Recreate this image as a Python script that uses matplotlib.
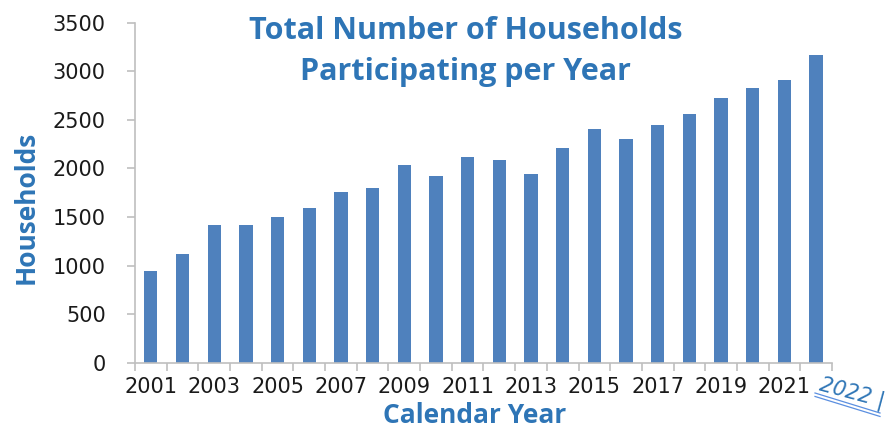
import matplotlib
matplotlib.use("Agg")
import matplotlib.pyplot as plt
from matplotlib.lines import Line2D
import numpy as np

years = list(range(2001, 2023))
households = [945, 1118, 1420, 1420, 1498, 1594, 1758, 1800, 2039, 1926,
              2118, 2088, 1947, 2211, 2402, 2305, 2450, 2558, 2720, 2832, 2912, 3166]
yticks = [0, 500, 1000, 1500, 2000, 2500, 3000, 3500]
title = "Total Number of Households\nParticipating per Year"
xlabel = "Calendar Year"
ylabel = "Households"

BAR = "#4F81BD"
BLUE = "#2E75B6"
GRAY = "#BFBFBF"
TXT = "#1A1A1A"

fig = plt.figure(figsize=(8.95, 4.32), dpi=100)
ax = fig.add_axes([0.1508, 0.1604, 0.7788, 0.7871])

x = np.arange(len(years))
ax.bar(x, households, width=0.42, color=BAR, zorder=2)

ax.set_xlim(-0.5, len(years) - 0.5)
ax.set_ylim(0, 3500)
ax.set_yticks(yticks)
ax.set_yticklabels([str(v) for v in yticks], fontsize=15, color=TXT, family="DejaVu Sans")

major = [i for i, y in enumerate(years) if y % 2 == 1]
ax.set_xticks(major)
ax.set_xticklabels([str(years[i]) for i in major], fontsize=15, color=TXT, family="DejaVu Sans")
ax.set_xticks(np.arange(-0.5, len(years), 1.0), minor=True)
ax.tick_params(axis="x", which="major", length=0, pad=10)
ax.tick_params(axis="x", which="minor", length=6, color=GRAY, width=1.2)
ax.tick_params(axis="y", length=6, color=GRAY, width=1.2, pad=15)

for s in ["top", "right"]:
    ax.spines[s].set_visible(False)
for s in ["left", "bottom"]:
    ax.spines[s].set_color(GRAY)
    ax.spines[s].set_linewidth(1.2)

fig.text(0.52, 0.962, title, ha="center", va="top", fontsize=22, fontweight="bold",
         color=BLUE, family="Open Sans", linespacing=1.45)
fig.text(0.53, 0.008, xlabel, ha="center", va="bottom", fontsize=19, fontweight="bold",
         color=BLUE, family="Open Sans")
fig.text(0.029, 0.52, ylabel, ha="center", va="center", rotation=90, fontsize=19,
         fontweight="bold", color=BLUE, family="Open Sans")

# last year label, drawn tilted and underlined as in the reference
fig.text(0.952, 0.090, str(years[-1]) + " |", ha="center", va="center", rotation=-15,
         fontsize=15, color=BLUE, family="DejaVu Sans", style="italic")
for dy in (0.0, 0.008):
    fig.add_artist(Line2D([815 / 895, 880 / 895], [1 - (393 + dy * 432) / 432, 1 - (413 + dy * 432) / 432],
                          transform=fig.transFigure, color="#5B8FE0", lw=0.9))

fig.savefig("out.png", dpi=100)
